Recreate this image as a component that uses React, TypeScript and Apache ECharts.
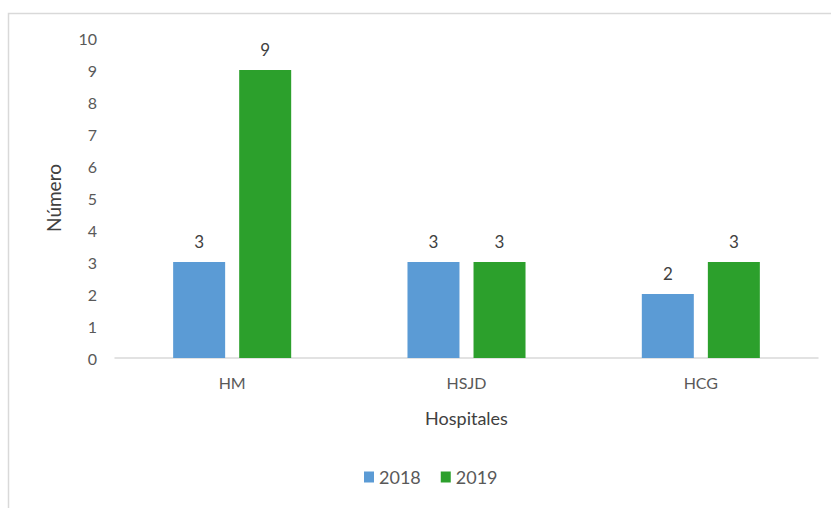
import React, { useEffect, useRef } from "react";
import * as echarts from "echarts";

const categories = ["HM", "HSJD", "HCG"];
const series2018 = [3, 3, 2];
const series2019 = [9, 3, 3];
const yTicks = { min: 0, max: 10, interval: 1 };

export default function App() {
  const ref = useRef<HTMLDivElement>(null);
  useEffect(() => {
    if (!ref.current) return;
    const chart = echarts.init(ref.current, null, { renderer: "svg" });
    const font = "Lato, 'Noto Sans', sans-serif";
    const labelStyle = {
      show: true,
      position: "top" as const,
      distance: 12,
      color: "#404040",
      fontSize: 17,
      fontFamily: font,
    };
    chart.setOption({
      animation: false,
      backgroundColor: "#ffffff",
      textStyle: { fontFamily: font },
      graphic: [
        {
          type: "rect",
          shape: { x: 8.5, y: 13.5, width: 1000, height: 700 },
          style: { fill: "none", stroke: "#d9d9d9", lineWidth: 1.5 },
          silent: true,
        },
      ],
      grid: { left: 115, right: 13, top: 38, bottom: 150, containLabel: false },
      legend: {
        bottom: 17,
        left: 359,
        itemWidth: 10,
        itemHeight: 11,
        itemGap: 20,
        icon: "rect",
        textStyle: { color: "#595959", fontSize: 18, fontFamily: font },
        data: ["2018", "2019"],
      },
      xAxis: {
        type: "category",
        data: categories,
        name: "Hospitales",
        nameLocation: "middle",
        nameGap: 51,
        nameTextStyle: { color: "#404040", fontSize: 18, fontFamily: font },
        axisLine: { lineStyle: { color: "#d9d9d9", width: 1.5 } },
        axisTick: { show: false },
        axisLabel: { color: "#595959", fontSize: 16, margin: 16, fontFamily: font },
      },
      yAxis: {
        type: "value",
        min: yTicks.min,
        max: yTicks.max,
        interval: yTicks.interval,
        name: "Número",
        nameLocation: "middle",
        nameGap: 52,
        nameTextStyle: { color: "#404040", fontSize: 19, fontFamily: font },
        axisLine: { show: false },
        axisTick: { show: false },
        splitLine: { show: false },
        axisLabel: { color: "#595959", fontSize: 16, margin: 18, fontFamily: font },
      },
      series: [
        {
          name: "2018",
          type: "bar",
          data: series2018,
          barWidth: 52,
          barGap: "27%",
          itemStyle: { color: "#5b9bd5" },
          label: labelStyle,
        },
        {
          name: "2019",
          type: "bar",
          data: series2019,
          barWidth: 52,
          itemStyle: { color: "#2ca02c" },
          label: labelStyle,
        },
      ],
    });
    return () => chart.dispose();
  }, []);
  return (
    <div
      ref={ref}
      style={{ position: "fixed", left: 0, top: 0, width: 831, height: 508 }}
    />
  );
}
